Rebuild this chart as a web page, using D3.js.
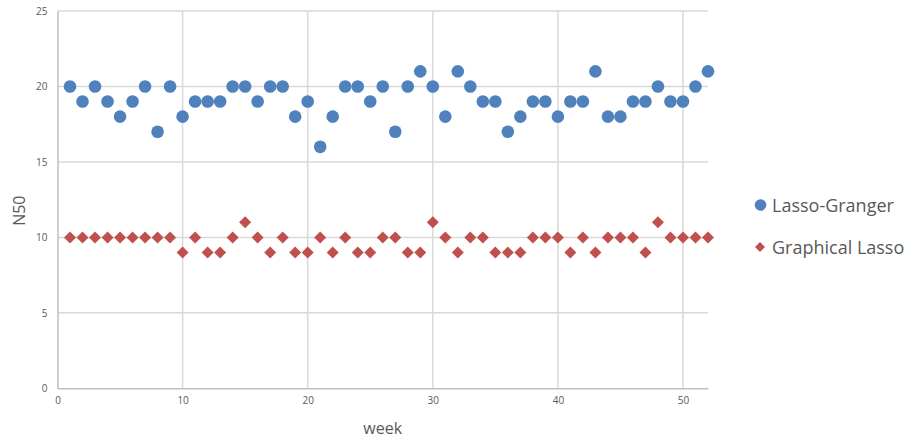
<!DOCTYPE html>
<html>
<head>
<meta charset="utf-8">
<script src="https://cdn.jsdelivr.net/npm/d3@7/dist/d3.min.js"></script>
<style>
  html, body { margin: 0; padding: 0; background: #fff; }
  svg { display: block; font-family: "Open Sans", "Liberation Sans", sans-serif; }
</style>
</head>
<body>
<svg id="chart" width="907" height="439"></svg>
<script>
// Weekly N50 values for the two network estimation methods
const weeks = d3.range(1, 53);
const lassoGranger = [20, 19, 20, 19, 18, 19, 20, 17, 20, 18,
                      19, 19, 19, 20, 20, 19, 20, 20, 18, 19,
                      16, 18, 20, 20, 19, 20, 17, 20, 21, 20,
                      18, 21, 20, 19, 19, 17, 18, 19, 19, 18,
                      19, 19, 21, 18, 18, 19, 19, 20, 19, 19,
                      20, 21];
const graphicalLasso = [10, 10, 10, 10, 10, 10, 10, 10, 10, 9,
                        10, 9, 9, 10, 11, 10, 9, 10, 9, 9,
                        10, 9, 10, 9, 9, 10, 10, 9, 9, 11,
                        10, 9, 10, 10, 9, 9, 9, 10, 10, 10,
                        9, 10, 9, 10, 10, 10, 9, 11, 10, 10,
                        10, 10];
const xTicks = [0, 10, 20, 30, 40, 50];
const yTicks = [0, 5, 10, 15, 20, 25];
const seriesNames = ["Lasso-Granger", "Graphical Lasso"];

const blue = "#4f81bd", red = "#c0504d";
const gridColor = "#d9d9d9", textColor = "#595959";

const svg = d3.select("#chart");
const plot = { left: 57.5, right: 708, top: 11, bottom: 388.3 };

const x = d3.scaleLinear().domain([0, 52]).range([plot.left, plot.right]);
const y = d3.scaleLinear().domain([0, 25]).range([plot.bottom, plot.top]);

// Gridlines
const grid = svg.append("g");
grid.selectAll("line.h").data(yTicks.filter(d => d > 0)).join("line")
  .attr("x1", plot.left).attr("x2", plot.right)
  .attr("y1", d => y(d)).attr("y2", d => y(d))
  .attr("stroke", gridColor).attr("stroke-width", 1.5);
grid.selectAll("line.v").data(xTicks.filter(d => d > 0)).join("line")
  .attr("x1", d => x(d)).attr("x2", d => x(d))
  .attr("y1", plot.top).attr("y2", plot.bottom)
  .attr("stroke", gridColor).attr("stroke-width", 1.5);

// Axes
const xAxis = svg.append("g")
  .attr("transform", `translate(0,${plot.bottom})`)
  .call(d3.axisBottom(x).tickValues(xTicks).tickSize(0).tickPadding(9));
const yAxis = svg.append("g")
  .attr("transform", `translate(${plot.left},0)`)
  .call(d3.axisLeft(y).tickValues(yTicks).tickSize(0).tickPadding(10));
[xAxis, yAxis].forEach(g => {
  g.select(".domain").attr("stroke", "#bfbfbf").attr("stroke-width", 1.5);
  g.selectAll("text").attr("fill", textColor)
    .style("font-family", "'Open Sans', 'Liberation Sans', sans-serif")
    .style("font-size", "10px");
});

// Axis titles
svg.append("text")
  .attr("x", (plot.left + plot.right) / 2).attr("y", 434)
  .attr("text-anchor", "middle").attr("fill", textColor)
  .style("font-size", "16px").text("week");
svg.append("text")
  .attr("transform", `translate(25,${(plot.top + plot.bottom) / 2 + 11}) rotate(-90)`)
  .attr("text-anchor", "middle").attr("fill", textColor)
  .style("font-size", "16px").text("N50");

// Markers
const diamond = d3.symbol(d3.symbolSquare, 72);
svg.append("g").selectAll("path").data(weeks).join("path")
  .attr("d", diamond)
  .attr("transform", (d, i) => `translate(${x(d)},${y(graphicalLasso[i])}) rotate(45)`)
  .attr("fill", red);
svg.append("g").selectAll("circle").data(weeks).join("circle")
  .attr("cx", d => x(d)).attr("cy", (d, i) => y(lassoGranger[i]))
  .attr("r", 6.3).attr("fill", blue);

// Legend
const legend = svg.append("g");
legend.append("circle").attr("cx", 760.5).attr("cy", 205).attr("r", 5.8).attr("fill", blue);
legend.append("path").attr("d", d3.symbol(d3.symbolSquare, 50))
  .attr("transform", "translate(760,247) rotate(45)").attr("fill", red);
legend.selectAll("text").data(seriesNames).join("text")
  .attr("x", 772).attr("y", (d, i) => 211.5 + i * 42)
  .attr("fill", textColor).style("font-size", "18px").text(d => d);
</script>
</body>
</html>
